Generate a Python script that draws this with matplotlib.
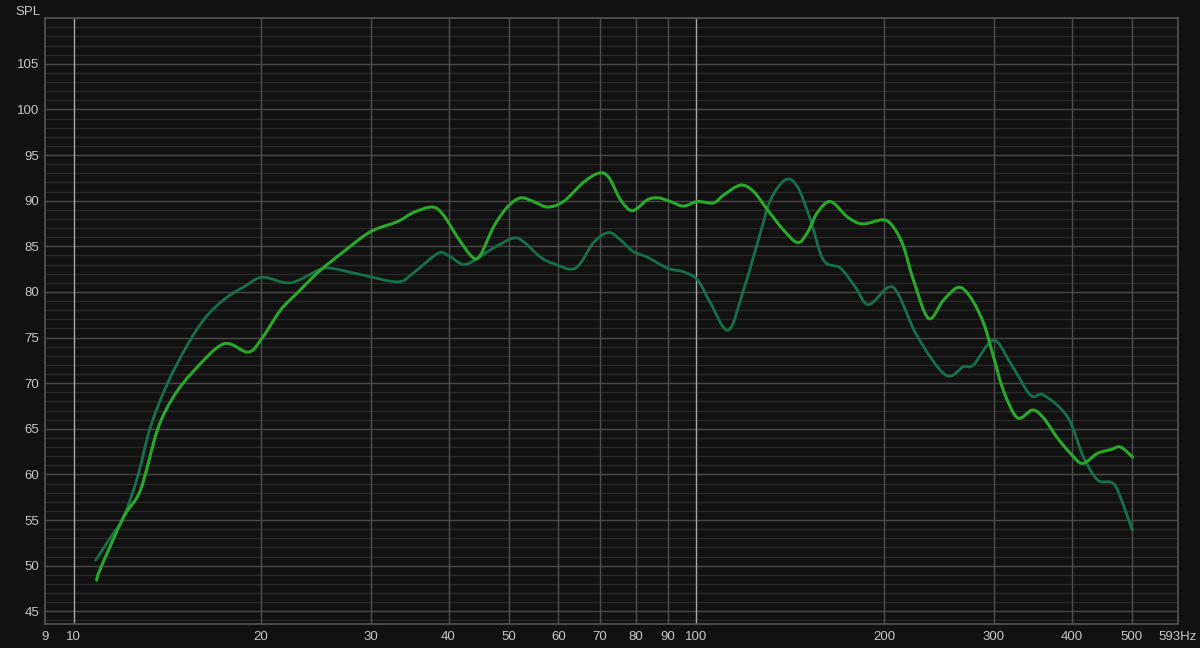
import matplotlib

matplotlib.use("Agg")
import matplotlib.pyplot as plt
import numpy as np
from matplotlib.patches import PathPatch
from matplotlib.path import Path

# measured responses (Hz, dB SPL)
freq_a = [10.89, 11.05, 12.03, 12.81, 13.64, 14.47, 15.58, 17.41, 19.09,
          20.11, 21.49, 22.88, 24.74, 27.13, 29.98, 33.12, 35.14, 37.70, 39.26,
          41.34, 43.70, 45.01, 47.22, 49.72, 52.18, 54.75, 57.68, 61.16, 65.86,
          69.61, 72.24, 75.51, 78.93, 83.43, 86.90, 90.84, 95.31, 100.4, 106.5,
          110.5, 117.7, 123.5, 130.0, 137.9, 145.3, 150.7, 156.4, 164.1, 174.8,
          184.7, 199.5, 207.1, 214.9, 223.0, 235.8, 249.2, 263.4, 275.4, 288.9,
          299.8, 311.0, 327.5, 346.2, 360.6, 379.7, 398.5, 416.6, 440.3, 461.9,
          479.3, 501.0]
spl_a = [48.4, 49.7, 55.3, 58.3, 64.9, 68.5, 71.3, 74.3, 73.4,
         75.0, 78.0, 79.9, 82.2, 84.4, 86.6, 87.7, 88.7, 89.3, 88.4,
         86.0, 83.8, 84.05, 87.1, 89.3, 90.3, 89.9, 89.3, 89.9, 92.0,
         93.0, 92.6, 90.1, 88.9, 90.1, 90.3, 89.9, 89.4, 89.9, 89.75,
         90.6, 91.7, 91.0, 89.0, 86.8, 85.4, 86.5, 88.7, 89.9, 88.2,
         87.45, 87.9, 87.1, 85.0, 81.3, 77.1, 79.1, 80.5, 79.4, 76.6,
         72.9, 69.2, 66.2, 67.05, 66.2, 64.0, 62.3, 61.2, 62.3, 62.7,
         63.0, 61.9]

freq_b = [10.85, 11.47, 12.03, 12.67, 13.29, 14.16, 15.24, 16.29, 17.54, 18.88,
          20.11, 22.30, 24.74, 25.86, 28.89, 33.12, 35.14, 38.40, 39.84, 42.27,
          44.52, 47.22, 50.84, 52.76, 56.19, 58.95, 63.94, 68.34, 72.24, 75.51,
          79.22, 83.43, 89.84, 95.31, 100.4, 105.3, 112.5, 119.0, 126.7, 131.5,
          139.0, 145.3, 152.4, 159.9, 170.3, 180.0, 188.8, 203.3, 211.0, 226.4,
          251.0, 268.3, 278.4, 299.8, 319.2, 343.6, 360.6, 394.1, 418.1, 440.3,
          461.9, 474.0, 501.0]
spl_b = [50.6, 53.1, 55.3, 59.7, 65.2, 70.0, 74.2, 77.2, 79.3, 80.65,
         81.6, 81.0, 82.4, 82.6, 81.9, 81.1, 82.1, 84.2, 84.05, 83.0,
         83.7, 84.8, 85.9, 85.5, 83.8, 83.1, 82.6, 85.4, 86.5, 85.7,
         84.4, 83.8, 82.6, 82.2, 81.3, 78.8, 75.8, 80.2, 86.5, 90.1,
         92.3, 91.5, 87.9, 83.5, 82.6, 80.5, 78.6, 80.5, 79.7, 75.1,
         70.9, 71.8, 72.0, 74.7, 72.2, 68.7, 68.7, 66.3, 61.9, 59.4,
         59.15, 58.3, 53.9]

x_ticks = [9, 10, 20, 30, 40, 50, 60, 70, 80, 90, 100, 200, 300, 400, 500, 593]
x_labels = ["9", "10", "20", "30", "40", "50", "60", "70", "80", "90", "100",
            "200", "300", "400", "500", "593Hz"]
y_major = list(range(45, 110, 5))
y_minor = list(range(44, 111))


def smooth_path(freqs, spl):
    # catmull-rom through the points, drawn as cubic bezier segments (log-freq space)
    lx = np.log10(freqs)
    y = np.asarray(spl, float)
    n = len(lx)
    verts = [(freqs[0], y[0])]
    codes = [Path.MOVETO]
    for i in range(n - 1):
        i0, i3 = max(i - 1, 0), min(i + 2, n - 1)
        c1x = lx[i] + (lx[i + 1] - lx[i0]) / 6
        c1y = y[i] + (y[i + 1] - y[i0]) / 6
        c2x = lx[i + 1] - (lx[i3] - lx[i]) / 6
        c2y = y[i + 1] - (y[i3] - y[i]) / 6
        verts += [(10 ** c1x, c1y), (10 ** c2x, c2y), (freqs[i + 1], y[i + 1])]
        codes += [Path.CURVE4] * 3
    return Path(verts, codes)


bg = "#111111"
plt.rcParams["font.family"] = ["Liberation Sans", "DejaVu Sans"]

fig = plt.figure(figsize=(12, 6.48), dpi=100, facecolor=bg)
ax = fig.add_axes([0.0375, 0.037, 0.9442, 0.935], facecolor=bg)
ax.set_xscale("log")
ax.set_xlim(9, 593)
ax.set_ylim(43.6, 110)

# grid
for v in y_minor:
    ax.axhline(v, color="#292929", lw=0.9, zorder=1)
for v in y_major:
    ax.axhline(v, color="#474747", lw=1.0, zorder=1)
for v in x_ticks[1:-1]:
    c = "#a8a8a8" if v in (10, 100) else "#4d4d4d"
    ax.axvline(v, color=c, lw=1.0, zorder=2)

ax.add_patch(PathPatch(smooth_path(freq_b, spl_b), fill=False, edgecolor="#16704a",
                       lw=2.0, zorder=3, joinstyle="round", capstyle="round"))
ax.add_patch(PathPatch(smooth_path(freq_a, spl_a), fill=False, edgecolor="#2aa82a",
                       lw=2.2, zorder=4, joinstyle="round", capstyle="round"))

ax.xaxis.set_major_locator(matplotlib.ticker.FixedLocator(x_ticks))
ax.xaxis.set_major_formatter(matplotlib.ticker.FixedFormatter(x_labels))
ax.xaxis.set_minor_locator(matplotlib.ticker.NullLocator())
ax.set_yticks(y_major)
ax.tick_params(length=0, colors="#c8c8c8", labelsize=9.5)
ax.tick_params(axis="y", pad=4)
ax.tick_params(axis="x", pad=5)

for s in ax.spines.values():
    s.set_color("#555555")
    s.set_linewidth(1.2)

fig.text(15 / 1200, 1 - 12 / 648, "SPL", color="#c8c8c8", fontsize=9.5, va="center")

fig.savefig("out.png", facecolor=bg)
